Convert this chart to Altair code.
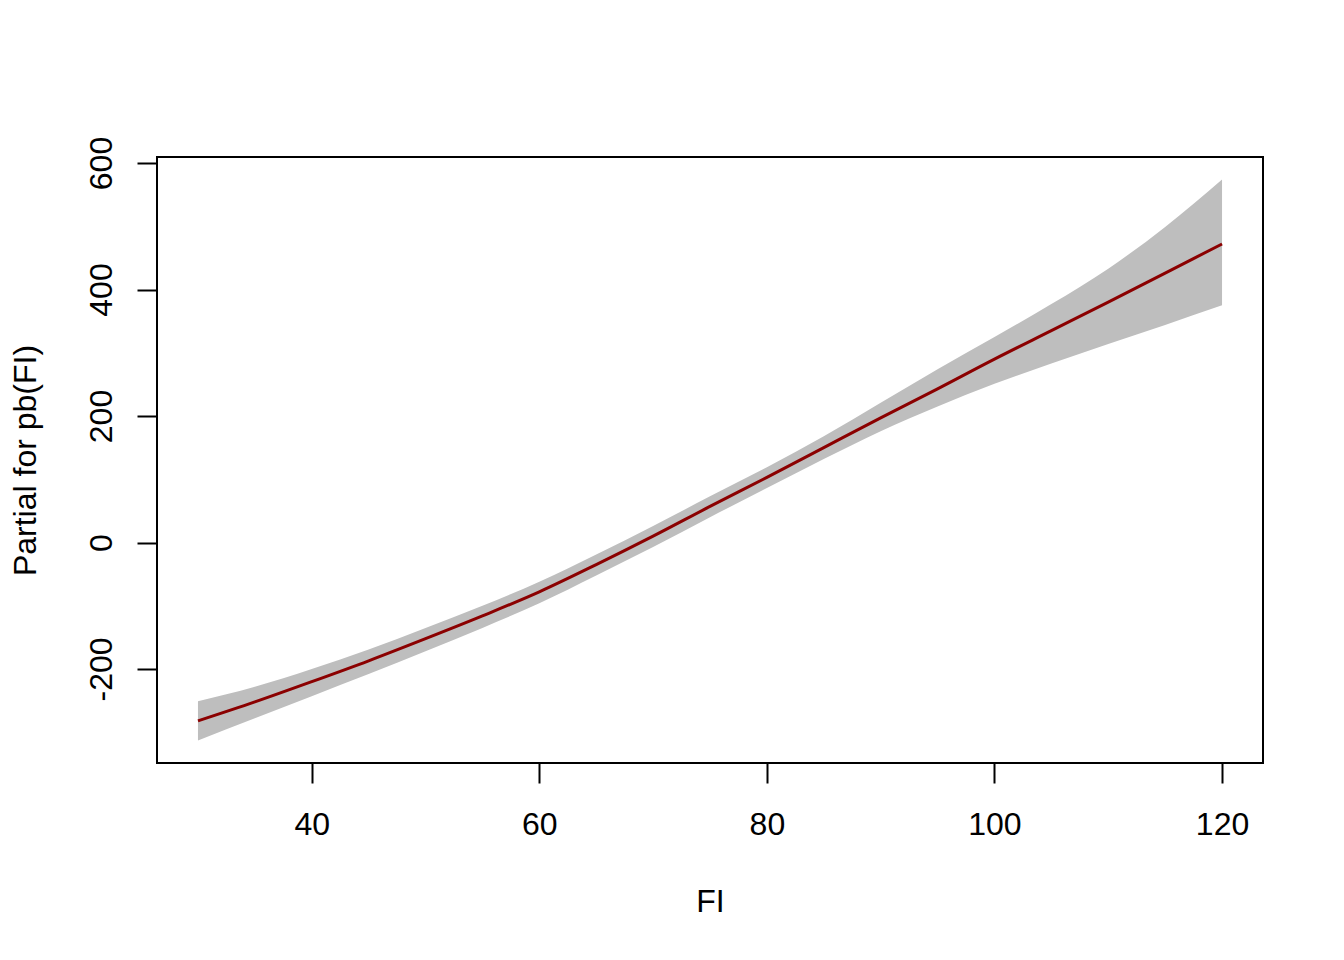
import altair as alt
import pandas as pd

fi = [30, 35, 40, 45, 50, 55, 60, 65, 70, 75, 80, 85, 90, 95, 100, 105, 110, 115, 120]
fit = [-282, -252, -220, -187, -152, -116, -78, -35, 10, 57, 103, 150, 197, 243, 290, 335, 380, 426, 472]
upper = [-251, -228, -200, -169, -135, -100, -62, -19, 26, 73, 119, 168, 221, 274, 325, 377, 433, 499, 574]
lower = [-313, -278, -243, -208, -172, -135, -96, -52, -7, 40, 86, 132, 176, 215, 251, 283, 314, 344, 375]

x_ticks = [40, 60, 80, 100, 120]
y_ticks = [-200, 0, 200, 400, 600]

df = pd.DataFrame({"FI": fi, "fit": fit, "upper": upper, "lower": lower})

FONT = "Liberation Sans"

xscale = alt.Scale(domain=[26.4, 123.6], nice=False, zero=False)
yscale = alt.Scale(domain=[-348.6, 609.5], nice=False, zero=False)

xaxis = alt.Axis(
    values=x_ticks, title="FI", domain=False, grid=False,
    tickSize=20, tickWidth=2, tickColor="black",
    labelFont=FONT, labelFontSize=32, labelColor="black",
    labelBaseline="alphabetic", labelPadding=51, labelFlush=False,
    labelExpr="'' + datum.value",
    titleFont=FONT, titleFontSize=32, titleFontWeight="normal", titleColor="black",
    titleBaseline="alphabetic", titleY=148, titleX=553,
)
yaxis = alt.Axis(
    values=y_ticks, title="Partial for pb(FI)", domain=False, grid=False,
    tickSize=20, tickWidth=2, tickColor="black",
    labelFont=FONT, labelFontSize=32, labelColor="black",
    labelAngle=270, labelAlign="center", labelBaseline="alphabetic",
    labelPadding=26, labelFlush=False,
    labelExpr="'' + datum.value",
    titleFont=FONT, titleFontSize=32, titleFontWeight="normal", titleColor="black",
    titleAngle=270, titleAlign="center", titleBaseline="alphabetic",
    titleX=-122, titleY=303,
)

band = alt.Chart(df).mark_area(color="#BEBEBE", opacity=1, interpolate="monotone").encode(
    x=alt.X("FI:Q", scale=xscale, axis=xaxis),
    y=alt.Y("lower:Q", scale=yscale, axis=yaxis),
    y2="upper:Q",
)
line = alt.Chart(df).mark_line(color="#8B0000", strokeWidth=3, interpolate="monotone").encode(
    x=alt.X("FI:Q", scale=xscale),
    y=alt.Y("fit:Q", scale=yscale),
)

chart = alt.layer(band, line).properties(
    width=1106, height=606,
    autosize=alt.AutoSizeParams(type="none"),
    padding={"left": 149, "top": 149, "right": 70, "bottom": 180},
    background="white",
).configure_view(stroke="black", strokeWidth=2)

chart.save("out.html", embed_options={"renderer": "svg", "actions": False})
